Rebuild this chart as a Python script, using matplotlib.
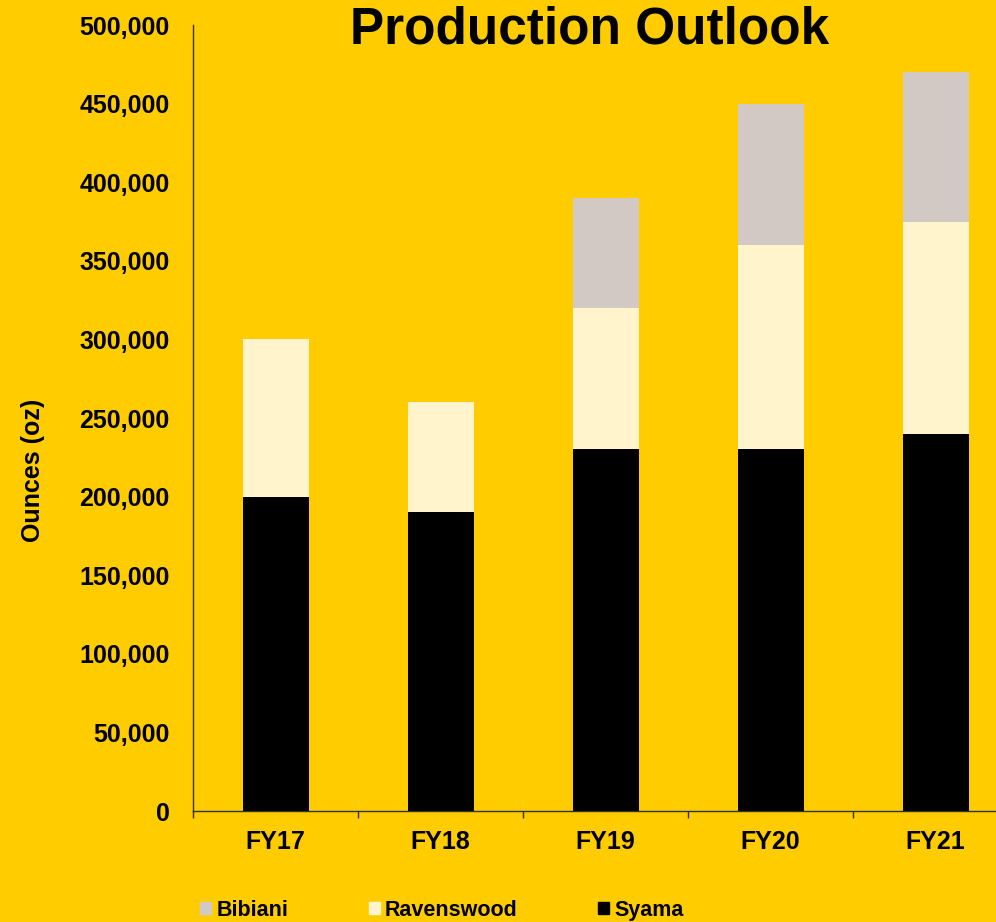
import matplotlib.pyplot as plt
import numpy as np
from matplotlib.patches import Patch
from matplotlib.ticker import FuncFormatter, FixedLocator

plt.rcParams['font.family'] = ['Liberation Sans', 'DejaVu Sans']
plt.rcParams['font.weight'] = 'bold'
plt.rcParams['axes.labelweight'] = 'bold'

years = ['FY17', 'FY18', 'FY19', 'FY20', 'FY21']
syama = [200000, 190000, 230000, 230000, 240000]
ravenswood = [100000, 70000, 90000, 130000, 135000]
bibiani = [0, 0, 70000, 90000, 95000]

bg = '#FFCC00'
c_syama = '#000000'
c_raven = '#FFF4CC'
c_bibiani = '#D3C9C4'

fig = plt.figure(figsize=(9.96, 9.22), dpi=100, facecolor=bg)
ax = fig.add_axes([193/996, 111/922, 825/996, 786/922])
ax.set_facecolor(bg)

x = np.arange(len(years))
w = 0.4
ax.bar(x, syama, w, color=c_syama)
ax.bar(x, ravenswood, w, bottom=syama, color=c_raven)
base2 = [s + r for s, r in zip(syama, ravenswood)]
ax.bar(x, bibiani, w, bottom=base2, color=c_bibiani)

ax.set_xlim(-0.5, 4.5)
ax.set_ylim(0, 500000)
ax.set_yticks(np.arange(0, 500001, 50000))
ax.yaxis.set_major_formatter(FuncFormatter(lambda v, p: f'{int(v):,}'))
ax.set_xticks(x)
ax.set_xticklabels(years)
ax.xaxis.set_minor_locator(FixedLocator(np.arange(-0.5, 5, 1)))

ax.tick_params(axis='y', length=0, pad=17, labelsize=18)
ax.tick_params(axis='x', which='major', length=0, pad=14, labelsize=18)
ax.tick_params(axis='x', which='minor', length=5, width=1, color='#333333', direction='out')

for s in ['top', 'right']:
    ax.spines[s].set_visible(False)
for s in ['left', 'bottom']:
    ax.spines[s].set_color('#333333')
    ax.spines[s].set_linewidth(1)

ax.set_ylabel('Ounces (oz)', fontsize=18, fontweight='bold', va='center')
ax.yaxis.set_label_coords(-0.194, 0.434)

fig.text(590/996, 1 - 44/922, 'Production Outlook', fontsize=37,
         ha='center', va='baseline')

handles = [Patch(color=c_bibiani), Patch(color=c_raven), Patch(color=c_syama)]
fig.legend(handles, ['Bibiani', 'Ravenswood', 'Syama'], ncol=3,
           loc='center left', bbox_to_anchor=(200/996, 1 - 910/922),
           frameon=False, fontsize=15.5, handlelength=0.5, handleheight=0.5,
           handletextpad=0.25, columnspacing=3.75, borderpad=0, borderaxespad=0)

fig.savefig('out.png', dpi=100, facecolor=bg)
